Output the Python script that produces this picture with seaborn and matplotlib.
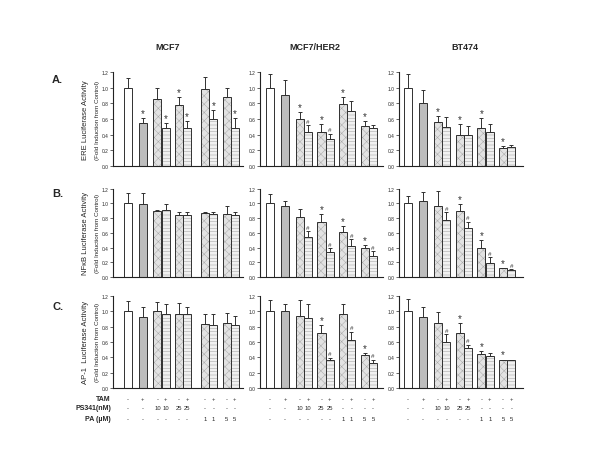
import numpy as np
import pandas as pd
import matplotlib
matplotlib.use("Agg")
import matplotlib.pyplot as plt
import matplotlib.colors as mcolors
import matplotlib.transforms as mtransforms
import seaborn as sns

# ---- data ----
cell_lines = ["MCF7", "MCF7/HER2", "BT474"]
reporters = ["ERE", "NF\u03baB", "AP-1 "]
panel_letters = ["A.", "B.", "C."]

tam_row = ["-", "+", "-", "+", "-", "+", "-", "+", "-", "+"]
ps341_row = ["-", "-", "10", "10", "25", "25", "-", "-", "-", "-"]
pa_row = ["-", "-", "-", "-", "-", "-", "1", "1", "5", "5"]

# ERE
ere_mcf7 = [1.00, 0.55, 0.86, 0.485, 0.78, 0.48, 0.98, 0.60, 0.88, 0.49]
ere_mcf7_err = [0.12, 0.06, 0.14, 0.065, 0.10, 0.09, 0.15, 0.11, 0.12, 0.12]
ere_mcf7_sig = ["", "*", "", "*", "*", "*", "", "*", "", "*"]
ere_her2 = [1.00, 0.91, 0.60, 0.44, 0.44, 0.35, 0.79, 0.70, 0.51, 0.48]
ere_her2_err = [0.17, 0.18, 0.09, 0.08, 0.09, 0.06, 0.09, 0.13, 0.06, 0.04]
ere_her2_sig = ["", "", "*", "#", "*", "#", "*", "", "*", ""]
ere_bt474 = [1.00, 0.80, 0.56, 0.50, 0.40, 0.40, 0.48, 0.43, 0.23, 0.24]
ere_bt474_err = [0.17, 0.17, 0.08, 0.12, 0.14, 0.11, 0.13, 0.10, 0.03, 0.03]
ere_bt474_sig = ["", "", "*", "", "*", "", "*", "", "*", ""]

# NFkB
nfkb_mcf7 = [1.00, 0.99, 0.90, 0.91, 0.84, 0.84, 0.87, 0.86, 0.85, 0.84]
nfkb_mcf7_err = [0.14, 0.15, 0.01, 0.08, 0.04, 0.04, 0.02, 0.03, 0.11, 0.05]
nfkb_mcf7_sig = [""] * 10
nfkb_her2 = [1.00, 0.97, 0.81, 0.54, 0.75, 0.34, 0.61, 0.42, 0.39, 0.28]
nfkb_her2_err = [0.13, 0.07, 0.11, 0.08, 0.10, 0.05, 0.08, 0.09, 0.05, 0.07]
nfkb_her2_sig = ["", "", "", "#", "*", "#", "*", "#", "*", "#"]
nfkb_bt474 = [1.00, 1.04, 0.97, 0.78, 0.90, 0.66, 0.40, 0.19, 0.12, 0.10]
nfkb_bt474_err = [0.10, 0.12, 0.20, 0.10, 0.09, 0.09, 0.10, 0.08, 0.005, 0.005]
nfkb_bt474_sig = ["", "", "", "#", "*", "#", "*", "#", "*", "#"]

# AP-1
ap1_mcf7 = [1.00, 0.92, 1.00, 0.97, 0.96, 0.96, 0.83, 0.82, 0.85, 0.82]
ap1_mcf7_err = [0.14, 0.13, 0.12, 0.13, 0.15, 0.10, 0.13, 0.14, 0.13, 0.12]
ap1_mcf7_sig = [""] * 10
ap1_her2 = [1.00, 1.00, 0.94, 0.91, 0.72, 0.37, 0.97, 0.62, 0.43, 0.32]
ap1_her2_err = [0.15, 0.10, 0.21, 0.18, 0.10, 0.02, 0.13, 0.11, 0.03, 0.05]
ap1_her2_sig = ["", "", "", "", "*", "#", "", "#", "*", "#"]
ap1_bt474 = [1.00, 0.92, 0.85, 0.60, 0.72, 0.52, 0.44, 0.42, 0.36, 0.36]
ap1_bt474_err = [0.16, 0.14, 0.14, 0.10, 0.13, 0.04, 0.04, 0.03, 0.01, 0.005]
ap1_bt474_sig = ["", "", "", "#", "*", "#", "*", "", "*", ""]

panels = [
    [(ere_mcf7, ere_mcf7_err, ere_mcf7_sig),
     (ere_her2, ere_her2_err, ere_her2_sig),
     (ere_bt474, ere_bt474_err, ere_bt474_sig)],
    [(nfkb_mcf7, nfkb_mcf7_err, nfkb_mcf7_sig),
     (nfkb_her2, nfkb_her2_err, nfkb_her2_sig),
     (nfkb_bt474, nfkb_bt474_err, nfkb_bt474_sig)],
    [(ap1_mcf7, ap1_mcf7_err, ap1_mcf7_sig),
     (ap1_her2, ap1_her2_err, ap1_her2_sig),
     (ap1_bt474, ap1_bt474_err, ap1_bt474_sig)],
]

# ---- style ----
sns.set_style("ticks")
plt.rcParams['font.family'] = ['Liberation Sans', 'DejaVu Sans']
plt.rcParams['hatch.linewidth'] = 0.35

bar_face = ["#ffffff", "#bdbdbd"] + ["#e2e2e2", "#f0f0f0"] * 4
bar_hatch = ["", ""] + ["xxxx", "-----"] * 4
hatch_col = ["#000000", "#000000"] + ["#a8a8a8", "#a0a0a0"] * 4


def bar_positions(extra_gap):
    pos = [0.0, 1.8]
    for k in range(4):
        s = 3.6 + 2.6 * k + (extra_gap if k >= 2 else 0.0)
        pos += [s, s + 1.0]
    return np.array(pos)


col_left = [0.1883, 0.4333, 0.665]
col_width = [0.2167, 0.205, 0.2067]
col_xlim = [(-1.8, 14.0), (-1.2, 13.6), (-1.1, 13.8)]
col_gap = [0.6, 0.0, 0.0]
row_bottom = [0.640, 0.401, 0.162]
row_height = [0.203, 0.190, 0.198]

fig = plt.figure(figsize=(6.0, 4.64), dpi=100)

for r in range(3):
    for c in range(3):
        vals, errs, sig = panels[r][c]
        pos = bar_positions(col_gap[c])
        ax = fig.add_axes([col_left[c], row_bottom[r], col_width[c], row_height[r]])
        df = pd.DataFrame({"pos": pos, "val": vals})
        sns.barplot(data=df, x="pos", y="val", native_scale=True, width=0.97,
                    color="white", saturation=1, edgecolor="#303030",
                    linewidth=0.7, errorbar=None, ax=ax)
        bars = sorted(ax.patches, key=lambda p: p.get_x())
        for i, p in enumerate(bars):
            p.set_facecolor(bar_face[i])
            p.set_hatch(bar_hatch[i])
            p._hatch_color = mcolors.to_rgba(hatch_col[i])
        ax.errorbar(pos, vals, yerr=[np.zeros(len(errs)), errs], fmt="none",
                    ecolor="#303030", elinewidth=0.7, capsize=1.3, capthick=0.7)
        for x, v, e, s in zip(pos, vals, errs, sig):
            if s:
                ax.text(x, v + e + (0.0 if s == "*" else 0.02), s, ha="center",
                        va="bottom", fontsize=7 if s == "*" else 4.5, color="#333333")
        ax.set_xlim(*col_xlim[c])
        ax.set_ylim(0, 1.2)
        ax.set_yticks(np.arange(0, 1.21, 0.2))
        ax.set_yticklabels([f"{t:.1f}" for t in np.arange(0, 1.21, 0.2)])
        ax.set_xticks([])
        ax.set_xlabel("")
        ax.set_ylabel("")
        ax.tick_params(axis="y", labelsize=3.5, length=2, width=0.5, pad=1)
        for side in ["left", "bottom"]:
            ax.spines[side].set_linewidth(0.8)
            ax.spines[side].set_color("#222222")
        sns.despine(ax=ax)

        if c == 0:
            ymid = row_bottom[r] + row_height[r] / 2
            fig.text(0.143, ymid, reporters[r] + " Luciferase Activity",
                     rotation=90, ha="center", va="center", fontsize=5.5)
            fig.text(0.162, ymid, "(Fold Induction from Control)",
                     rotation=90, ha="center", va="center", fontsize=4.5)

        if r == 2:
            tr = mtransforms.blended_transform_factory(ax.transData, fig.transFigure)
            for row_vals, ry in zip([tam_row, ps341_row, pa_row], [0.138, 0.119, 0.095]):
                for x, t in zip(pos, row_vals):
                    ax.text(x, ry, t, transform=tr, ha="center", va="center",
                            fontsize=4.2, clip_on=False)

# titles and letters
for name, tx in zip(cell_lines, [0.28, 0.525, 0.775]):
    fig.text(tx, 0.897, name, ha="center", va="center", fontsize=6.5, fontweight="bold")
for letter, ly in zip(panel_letters, [0.828, 0.582, 0.338]):
    fig.text(0.087, ly, letter, ha="left", va="center", fontsize=8, fontweight="bold")

for lab, ry in zip(["TAM", "PS341(nM)", "PA (\u00b5M)"], [0.138, 0.119, 0.095]):
    fig.text(0.185, ry, lab, ha="right", va="center", fontsize=5, fontweight="bold")

fig.savefig("out.png", dpi=100, facecolor="white")
